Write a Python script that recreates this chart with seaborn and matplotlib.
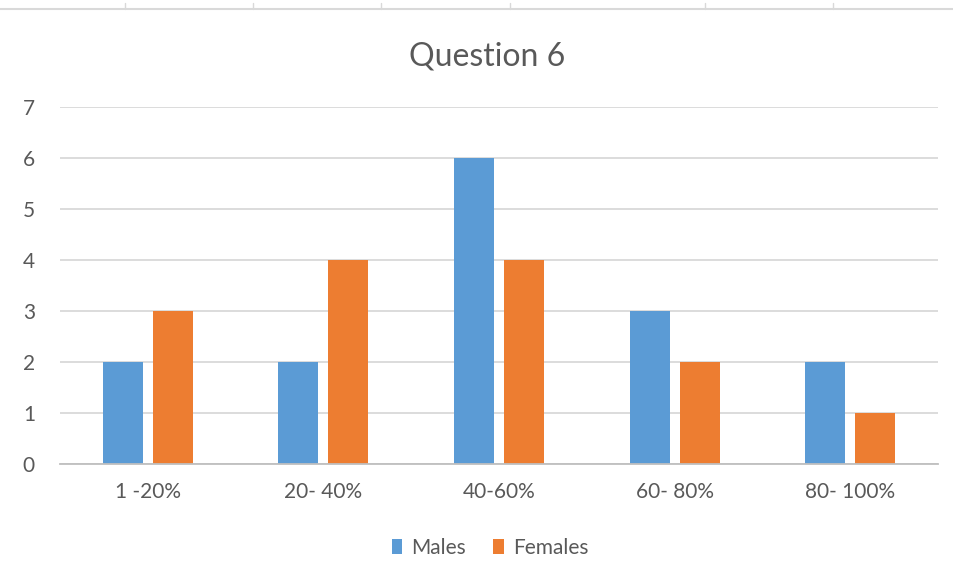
import matplotlib
matplotlib.use("Agg")
import matplotlib.pyplot as plt
import seaborn as sns
import pandas as pd
from matplotlib.lines import Line2D
from matplotlib.patches import Patch

categories = ["1 -20%", "20- 40%", "40-60%", "60- 80%", "80- 100%"]
males = [2, 2, 6, 3, 2]
females = [3, 4, 4, 2, 1]
series_names = ["Males", "Females"]
yticks = [0, 1, 2, 3, 4, 5, 6, 7]

df = pd.DataFrame({
    "category": categories * 2,
    "value": males + females,
    "series": [series_names[0]] * len(categories) + [series_names[1]] * len(categories),
})

sns.set_theme(style="white")
plt.rcParams["font.family"] = ["Lato", "DejaVu Sans"]
text_color = "#595959"
grid_color = "#D9D9D9"
palette = {"Males": "#5B9BD5", "Females": "#ED7D31"}

W, H = 954, 561
fig = plt.figure(figsize=(W / 100, H / 100), dpi=100)
ax = fig.add_axes([60 / W, 1 - 464 / H, (938 - 60) / W, (464 - 107) / H])

sns.barplot(data=df, x="category", y="value", hue="series", order=categories,
            hue_order=series_names, palette=palette, width=0.57, gap=0.2,
            saturation=1, edgecolor="none", ax=ax, legend=False)

ax.set_xlim(-0.5, len(categories) - 0.5)
ax.set_ylim(0, 7)
ax.set_yticks(yticks)
ax.set_yticklabels([str(t) for t in yticks])
ax.yaxis.grid(True, color=grid_color, linewidth=1.3)
ax.set_axisbelow(True)
for s in ["top", "right", "left"]:
    ax.spines[s].set_visible(False)
ax.spines["bottom"].set_color("#BFBFBF")
ax.spines["bottom"].set_linewidth(1.3)
ax.tick_params(axis="both", length=0, labelsize=15, labelcolor=text_color)
ax.tick_params(axis="y", pad=18)
ax.tick_params(axis="x", pad=13)
ax.set_xlabel("")
ax.set_ylabel("")

fig.text(0.511, 1 - 57 / H, "Question 6", ha="center", va="center",
         fontsize=23, color=text_color)

handles = [Patch(facecolor=palette[n], edgecolor="none", label=n) for n in series_names]
fig.legend(handles=handles, loc="center", bbox_to_anchor=(490 / W, 1 - 548 / H),
           ncol=2, frameon=False, fontsize=15, labelcolor=text_color,
           handlelength=0.5, handleheight=0.75, handletextpad=0.45,
           columnspacing=1.3, borderpad=0)

# top border from the source screenshot
fig.add_artist(Line2D([0, 1], [1 - 9 / H, 1 - 9 / H], color=grid_color, linewidth=1.5,
                      transform=fig.transFigure))
for tx in [125, 253, 381, 510, 705, 833]:
    fig.add_artist(Line2D([tx / W, tx / W], [1 - 3 / H, 1 - 9 / H], color=grid_color,
                          linewidth=1, transform=fig.transFigure))

fig.savefig("out.png", dpi=100, facecolor="white")
